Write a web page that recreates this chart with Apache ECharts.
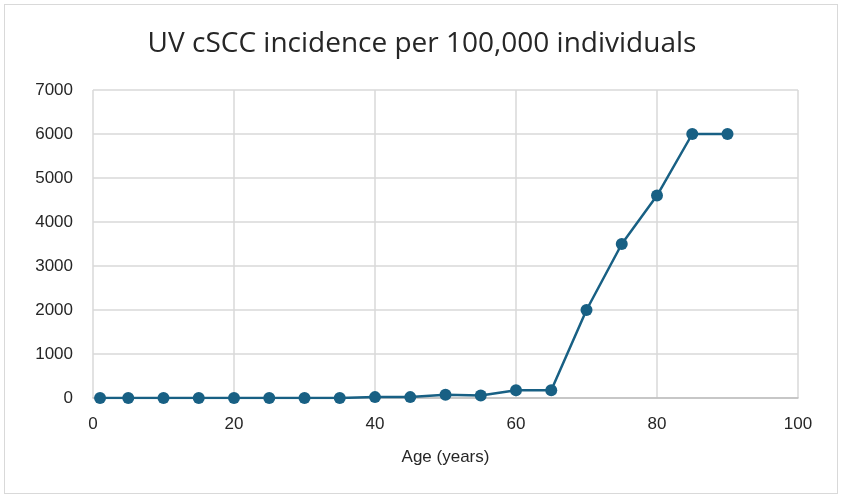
<!DOCTYPE html>
<html>
<head>
<meta charset="utf-8">
<script src="https://cdn.jsdelivr.net/npm/echarts@6/dist/echarts.min.js"></script>
<style>
  html, body { margin: 0; padding: 0; background: #fff; }
  #frame { position: absolute; left: 4px; top: 4px; width: 834px; height: 490px; border: 1px solid #d9d9d9; box-sizing: border-box; }
  #chart { position: absolute; left: 0; top: 0; width: 844px; height: 496px; }
</style>
</head>
<body>
<div id="frame"></div>
<div id="chart"></div>
<script>
// Age in years and incidence per 100,000
const ages = [1, 5, 10, 15, 20, 25, 30, 35, 40, 45, 50, 55, 60, 65, 70, 75, 80, 85, 90];
const incidence = [0, 0, 0, 0, 0, 0, 0, 0, 20, 20, 75, 55, 175, 175, 2000, 3500, 4600, 6000, 6000];
const titleText = 'UV cSCC incidence per 100,000 individuals';
const xAxisName = 'Age (years)';

const points = ages.map((a, i) => [a, incidence[i]]);
const titleFont = '"Open Sans", "Noto Sans", sans-serif';
const font = '"Liberation Sans", Arial, sans-serif';

const chart = echarts.init(document.getElementById('chart'), null, { renderer: 'canvas' });
chart.setOption({
  animation: false,
  backgroundColor: 'transparent',
  title: {
    text: titleText,
    left: 'center',
    top: 25,
    textStyle: { fontFamily: titleFont, fontSize: 28, fontWeight: 'normal', color: '#262626' }
  },
  grid: { left: 93, right: 46, top: 90, bottom: 98, containLabel: false },
  xAxis: {
    type: 'value',
    min: 0, max: 100, interval: 20,
    name: xAxisName,
    nameLocation: 'middle',
    nameGap: 51,
    nameTextStyle: { fontFamily: font, fontSize: 17, color: '#262626' },
    axisLine: { lineStyle: { color: '#bfbfbf', width: 1.5 } },
    axisTick: { show: false },
    axisLabel: { fontFamily: font, fontSize: 17, color: '#262626', margin: 18 },
    splitLine: { show: true, lineStyle: { color: '#d9d9d9', width: 1.5 } }
  },
  yAxis: {
    type: 'value',
    min: 0, max: 7000, interval: 1000,
    axisLine: { show: false },
    axisTick: { show: false },
    axisLabel: {
      fontFamily: font, fontSize: 17, color: '#262626', margin: 20,
      formatter: v => String(v)
    },
    splitLine: { show: true, lineStyle: { color: '#d9d9d9', width: 1.5 } }
  },
  series: [{
    type: 'line',
    data: points,
    symbol: 'circle',
    symbolSize: 12,
    lineStyle: { color: '#186084', width: 2.5 },
    itemStyle: { color: '#186084' }
  }]
});
</script>
</body>
</html>
